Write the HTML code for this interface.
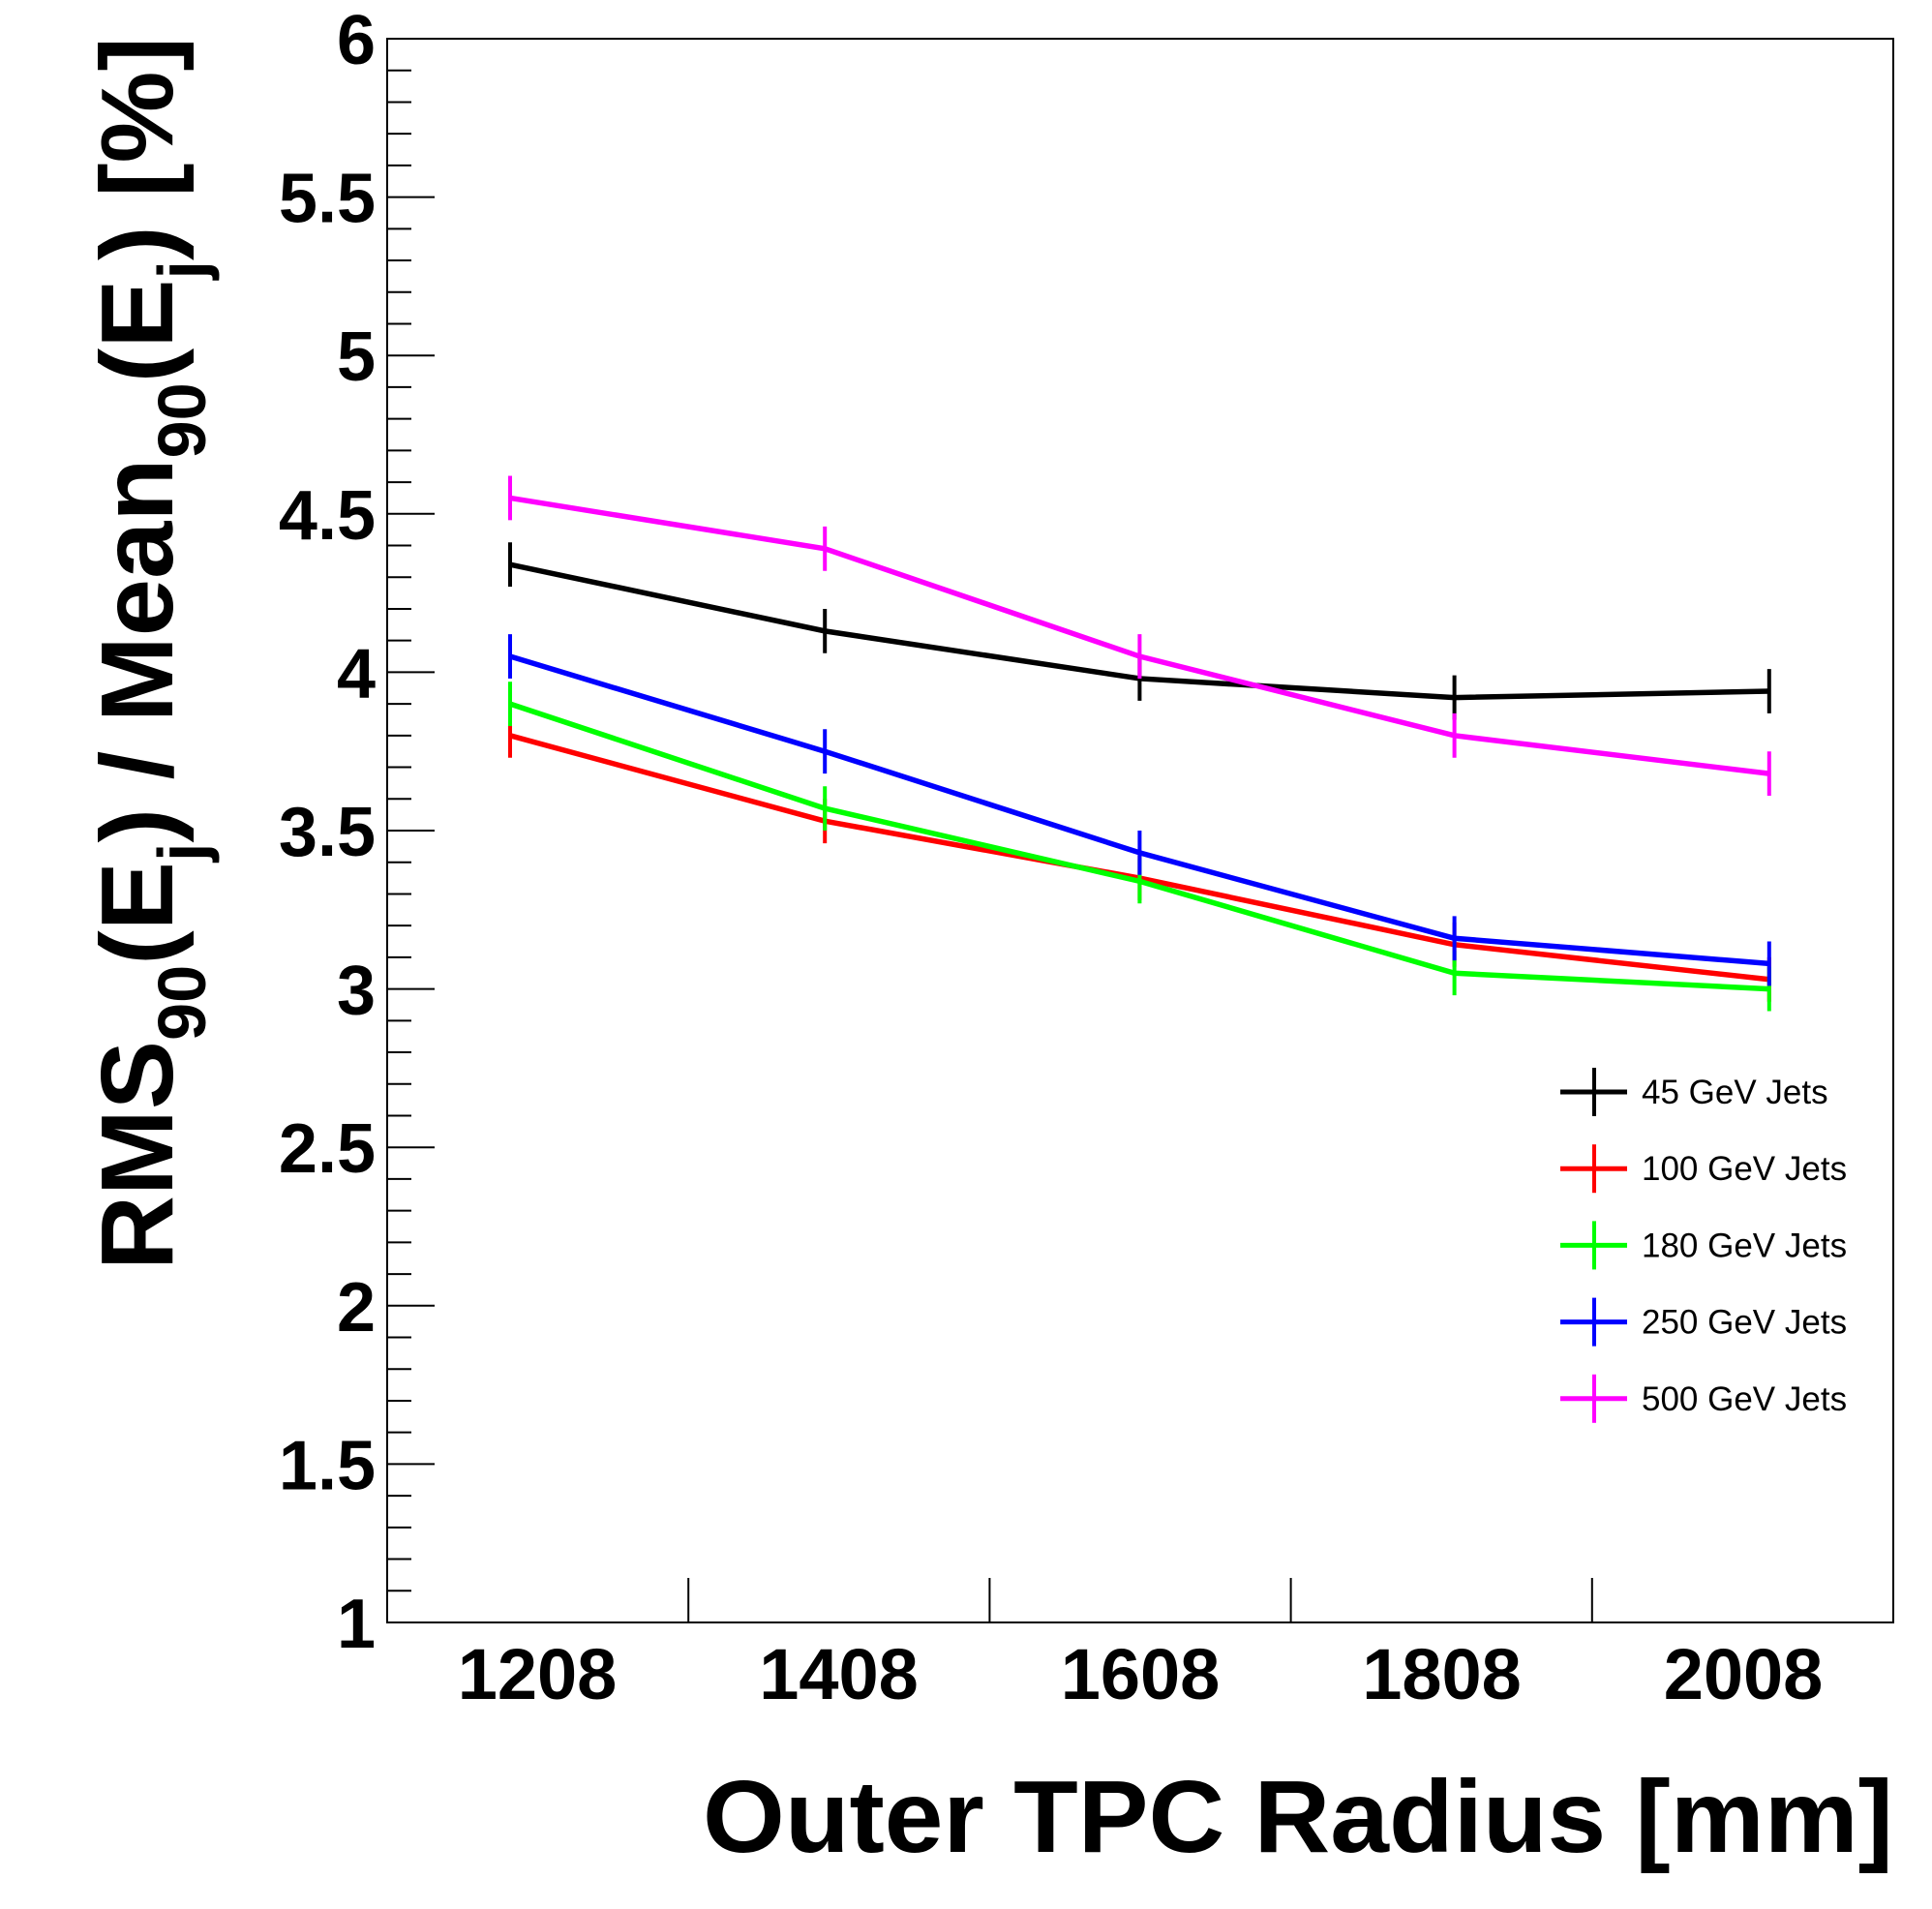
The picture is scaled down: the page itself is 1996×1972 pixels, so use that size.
<!DOCTYPE html>
<html><head><meta charset="utf-8"><style>
html,body{margin:0;padding:0;background:#fff;}
svg{display:block;font-family:"Liberation Sans",Arial,sans-serif;}
</style></head><body>
<svg id="chart" width="1996" height="1972" viewBox="0 0 1996 1972" xmlns="http://www.w3.org/2000/svg">
<rect x="400" y="40" width="1556" height="1636" fill="none" stroke="#000" stroke-width="2"/>
<g id="axes"></g>
<g id="series"></g>
<g id="legend"></g>
<text x="726" y="1913" font-size="106" font-weight="bold" textLength="1230" lengthAdjust="spacingAndGlyphs">Outer TPC Radius [mm]</text>
<text transform="translate(178,1312) rotate(-90)" font-size="106" font-weight="bold" textLength="1274" lengthAdjust="spacingAndGlyphs">RMS<tspan font-size="70" dy="34">90</tspan><tspan dy="-34">(E</tspan><tspan font-size="70" dy="34">j</tspan><tspan dy="-34">) / Mean</tspan><tspan font-size="70" dy="34">90</tspan><tspan dy="-34">(E</tspan><tspan font-size="70" dy="34">j</tspan><tspan dy="-34">) [%]</tspan></text>
</svg>
<script>
const categories = ["1208","1408","1608","1808","2008"];
const seriesNames = ["45 GeV Jets","100 GeV Jets","180 GeV Jets","250 GeV Jets","500 GeV Jets"];
const seriesColors = ["#000000","#ff0000","#00ff00","#0000ff","#ff00ff"];
const s45 = [4.34,4.13,3.98,3.92,3.94];
const s100 = [3.80,3.53,3.35,3.14,3.03];
const s180 = [3.90,3.57,3.34,3.05,3.00];
const s250 = [4.05,3.75,3.43,3.16,3.08];
const s500 = [4.55,4.39,4.05,3.80,3.68];
const errs = [0.07,0.07,0.07,0.07,0.07];
const yTicks = ["1","1.5","2","2.5","3","3.5","4","4.5","5","5.5","6"];
const allSeries = [s45,s100,s180,s250,s500];
const SVGNS="http://www.w3.org/2000/svg";
const yMin=1,yMax=6,plotTop=40,plotBot=1676,plotLeft=400,plotRight=1956;
function yPos(v){return plotBot-(v-yMin)/(yMax-yMin)*(plotBot-plotTop);}
function xPoint(i){return 527+i*325.2;}
const labelCenters0=555, labelStep=311.5;
function xLabel(i){return labelCenters0+i*labelStep;}
function mk(t,a,p){const e=document.createElementNS(SVGNS,t);for(const k in a)e.setAttribute(k,a[k]);p.appendChild(e);return e;}
const axes=document.getElementById('axes');
for(let k=0;k<=50;k++){
  const v=yMin+k*0.1;const y=yPos(v);const major=k%5===0;
  const t=mk('line',{x1:plotLeft,x2:plotLeft+(major?49:25),y1:y,y2:y,stroke:'#000','stroke-width':2},axes);
  
  
}
yTicks.forEach(s=>{
  const t=mk('text',{x:388,y:yPos(parseFloat(s))+26,'text-anchor':'end','font-size':72,'font-weight':'bold'},axes);
  t.textContent=s;
  
  
});
for(let i=1;i<categories.length;i++){
  const x=plotLeft+i*(plotRight-plotLeft)/categories.length;
  const t=mk('line',{x1:x,x2:x,y1:plotBot,y2:plotBot-46,stroke:'#000','stroke-width':2},axes);
  
  
}
categories.forEach((c,i)=>{
  const t=mk('text',{x:xLabel(i),y:1755,'text-anchor':'middle','font-size':74,'font-weight':'bold'},axes);
  t.textContent=c;
  
  
});
const sg=document.getElementById('series');
allSeries.forEach((vals,si)=>{
  const g=mk('g',{},sg);
  
  
  const pts=vals.map((v,i)=>xPoint(i)+','+yPos(v)).join(' ');
  mk('polyline',{points:pts,fill:'none',stroke:seriesColors[si],'stroke-width':5.5},g);
  vals.forEach((v,i)=>{
    const e=mk('line',{x1:xPoint(i),x2:xPoint(i),y1:yPos(v+errs[i]),y2:yPos(v-errs[i]),stroke:seriesColors[si],'stroke-width':4},g);
    
    
  });
});
const lg=document.getElementById('legend');
seriesNames.forEach((n,i)=>{
  const y=1128+i*79.2;
  const g=mk('g',{},lg);
  
  
  mk('line',{x1:1612,x2:1681,y1:y,y2:y,stroke:seriesColors[i],'stroke-width':5},g);
  mk('line',{x1:1647,x2:1647,y1:y-25,y2:y+25,stroke:seriesColors[i],'stroke-width':4},g);
  const t=mk('text',{x:1696,y:y+12,'font-size':35},g);
  t.textContent=n;
});
</script>
</body></html>
